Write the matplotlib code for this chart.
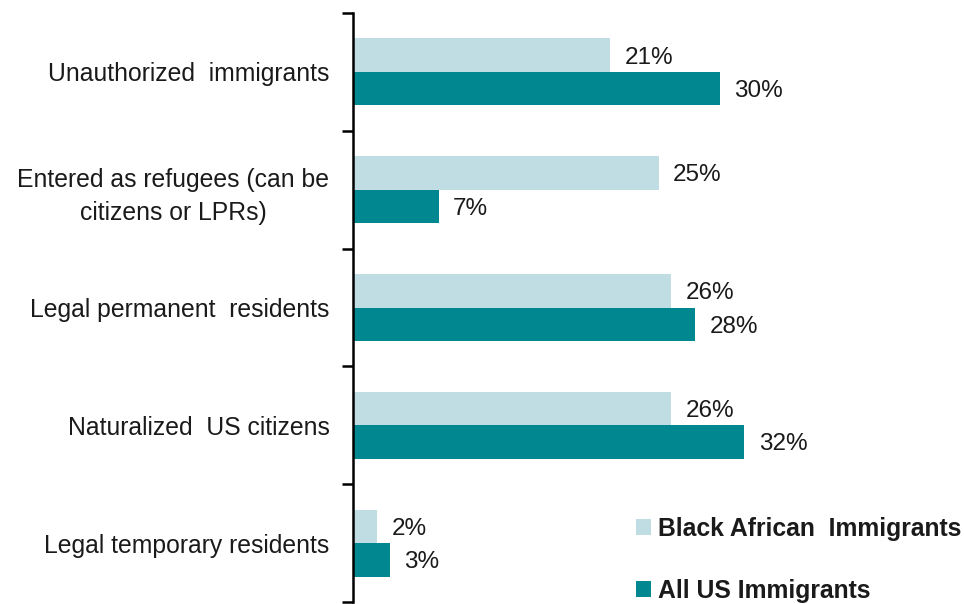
import matplotlib.pyplot as plt
import numpy as np

categories = ["Unauthorized  immigrants",
              "Entered as refugees (can be\ncitizens or LPRs)",
              "Legal permanent  residents",
              "Naturalized  US citizens",
              "Legal temporary residents"]
black_african = [21, 25, 26, 26, 2]
all_us = [30, 7, 28, 32, 3]
series_names = ["Black African  Immigrants", "All US Immigrants"]

light = "#bfdde2"
dark = "#00878f"
txt = "#1a1a1a"

plt.rcParams['font.family'] = ['Liberation Sans', 'DejaVu Sans']

fig = plt.figure(figsize=(9.64, 6.04), dpi=100)
W, H = 964, 604
ax = fig.add_axes([353 / W, 1 - 602 / H, (W - 353) / W, (602 - 13) / H])

y = np.arange(len(categories))
h = 0.284
b1 = ax.barh(y - h / 2, black_african, height=h, color=light, label=series_names[0])
b2 = ax.barh(y + h / 2, all_us, height=h, color=dark, label=series_names[1])

for i in range(len(categories)):
    ax.text(black_african[i] + 1.2, y[i] - h / 2 + 0.02, f"{black_african[i]}%",
            va='center', ha='left', fontsize=17.5, color=txt)
    ax.text(all_us[i] + 1.2, y[i] + h / 2 + 0.02, f"{all_us[i]}%",
            va='center', ha='left', fontsize=17.5, color=txt)

ax.set_xlim(0, 50)
ax.set_ylim(len(categories) - 0.5, -0.5)

# boundaries as major ticks, names as minor ticks
ax.set_yticks(np.arange(len(categories) + 1) - 0.5)
ax.set_yticklabels([])
ax.set_yticks(y, minor=True)
ax.set_yticklabels(categories, minor=True, fontsize=17.8, color=txt,
                   multialignment='center', linespacing=1.45)
ax.tick_params(axis='y', which='major', length=8, width=1.8, direction='out')
ax.tick_params(axis='y', which='minor', length=0, pad=17)
ax.set_xticks([])

for s in ['top', 'right', 'bottom']:
    ax.spines[s].set_visible(False)
ax.spines['left'].set_linewidth(1.8)

leg = fig.legend(handles=[b1, b2], loc='upper left', bbox_to_anchor=(636 / W, 1 - 517 / H),
                 frameon=False, prop={'weight': 'bold', 'size': 17.8},
                 handlelength=0.6, handleheight=0.6, handletextpad=0.3,
                 labelspacing=1.52, borderpad=0, borderaxespad=0)
for t in leg.get_texts():
    t.set_color(txt)

fig.savefig("out.png", dpi=100)
